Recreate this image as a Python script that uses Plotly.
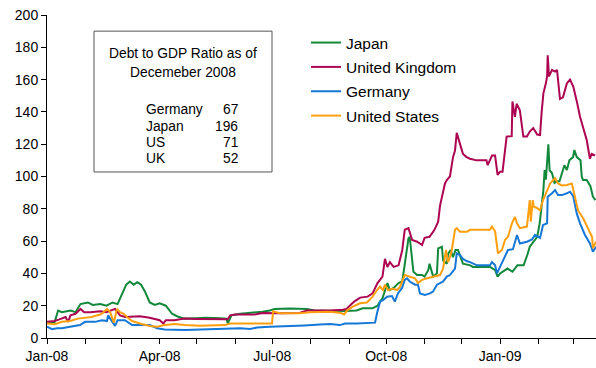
import pandas as pd
import plotly.graph_objects as go

# ---- data (days since 2008-01-01, value) ----
BASE = pd.Timestamp("2008-01-01")

japan_day = [0, 6, 9, 12, 19, 23, 27, 33, 37, 43, 48, 53, 57, 60, 64, 67, 70, 73, 76, 79, 83, 87, 91, 96,
             101, 105, 111, 120, 128, 140, 145, 146, 149, 156, 166, 174, 180, 184, 196, 210, 216, 229, 241,
             250, 255, 263, 267, 269, 271, 275, 277, 280, 284, 287, 288, 291, 292, 293, 295, 296, 299, 303,
             305, 308, 309, 311, 312, 315, 316, 319, 320, 323, 324, 326, 328, 330, 332, 336, 342, 344, 350,
             358, 362, 364, 366, 372, 374, 376, 380, 385, 388, 390, 396, 398, 401, 402, 403, 405, 406, 408,
             410, 412, 414, 417, 418, 420, 422, 425, 426, 428, 431, 432, 433, 436, 439, 441, 443]
japan_val = [9.5, 9.5, 17, 16, 17, 16, 21, 22, 20.5, 21, 20, 22, 21, 26, 33, 35, 33, 34.5, 33, 29, 22, 20.5,
             21.5, 20, 15, 13.5, 12, 12.3, 12.5, 12.3, 12, 9, 14, 15, 15.5, 16.3, 17, 18, 18.3, 18, 17, 16.7,
             16.7, 17, 18.4, 18.4, 20, 22.5, 24.6, 34, 29.7, 31, 34, 35, 40, 54.5, 61.7, 62.7, 46, 41, 39,
             39, 38, 42, 46, 41, 38, 40, 55.5, 56.5, 48, 46, 52, 54.5, 50, 54.5, 54.5, 46, 45, 44, 44, 44,
             42, 38, 40, 43, 42, 41, 45, 45, 51.4, 56.5, 62.7, 71, 91.6, 104, 98, 120, 104, 102, 96, 97, 97,
             104, 107, 104, 110, 112, 116.4, 112, 110, 100, 97.8, 97.8, 94, 87.5, 85.4]

uk_day = [0, 6, 10, 15, 17, 19, 23, 27, 30, 35, 43, 48, 55, 59, 63, 75, 83, 89, 91, 94, 96, 103, 111, 120,
          128, 140, 146, 148, 152, 168, 174, 188, 204, 210, 216, 229, 239, 242, 246, 249, 253, 259, 263,
          267, 271, 273, 275, 277, 280, 284, 287, 289, 292, 295, 299, 303, 305, 309, 313, 316, 317.5, 320,
          321.5, 323, 325.5, 328, 329.6, 331, 333.6, 336, 339, 341.7, 347, 355, 356, 359.5, 362, 364, 366,
          368, 371.3, 375.4, 376, 378, 379.4, 382, 384.8, 387.7, 390, 392.8, 396, 398.3, 399.6, 401, 403,
          404, 404.5, 405.5, 408, 410.4, 412, 414.4, 416.8, 420, 422.5, 425.2, 428, 430.6, 433.2, 436,
          438.6, 440, 442.7]
uk_val = [10, 10.5, 11.5, 13, 10, 14, 15, 18, 16, 16, 16.5, 16, 18, 14, 13, 13.5, 12.5, 11.5, 11, 9, 11, 11,
          12, 11.8, 11.8, 11.6, 11.6, 14, 14.6, 14.6, 15.5, 15.3, 15.5, 17, 17, 17, 17.5, 18, 21, 23, 25,
          25.6, 27.6, 34, 38, 49, 44, 47, 44, 45, 54.5, 67, 68, 60.7, 59.6, 57.6, 62, 62.7, 67, 72, 82,
          90.6, 95.7, 97.8, 100, 112, 116, 127, 120.5, 114, 112, 111, 110, 110, 107, 113, 113, 101, 103,
          103, 124.7, 125, 146.5, 137, 145, 141, 124.7, 124.7, 127.8, 130, 126, 125.7, 140, 151.5, 157.7,
          162, 175, 162, 166, 165, 166, 148, 149, 157.7, 160, 155.6, 146.5, 137, 130, 122.6, 111, 114, 113]

germany_day = [0, 4, 8, 12, 18.6, 26.7, 30.7, 38.8, 44.4, 48.5, 49.3, 51.7, 55, 57, 63, 68.7, 75, 83, 89,
               95, 111.5, 123.6, 139.7, 148, 156, 164, 169.6, 180, 196, 208, 220.5, 228.6, 236.7, 240.7,
               250.4, 265, 266.6, 269, 271.4, 274.7, 278.7, 281, 283.5, 286.8, 289, 290.8, 293, 297.3,
               299.7, 301.3, 305.3, 309.4, 311.8, 315, 317.5, 320, 323, 325.5, 329.6, 331, 333.6, 336,
               339.3, 341.7, 347.4, 357.9, 359.5, 362, 363.5, 366, 370, 372.4, 376.4, 379.7, 382, 387.7,
               391.8, 394.2, 398.3, 400.7, 404, 404.5, 408, 410.4, 412.8, 416, 420, 422.5, 425, 428, 430.6,
               434.6, 438.6, 441, 443.5]
germany_val = [7, 5.5, 6, 6, 7, 8, 10, 10, 11, 10.5, 14, 11, 7.5, 11, 11, 8, 8, 8, 6, 5.3, 5, 5.3, 5.6, 5.6,
               6, 5.6, 6.5, 7, 7.3, 7.8, 8.3, 8.7, 8, 9, 9, 9.5, 15.3, 22.5, 23.5, 25.6, 26, 22.5, 27.6,
               31, 36, 37, 35, 33, 33, 27.6, 26.6, 27.6, 28.7, 33, 34, 35, 38, 39, 43, 52.4, 51.4, 49, 47.5,
               47, 45, 45, 47, 45, 40, 44, 50, 54.5, 55, 63.8, 58.5, 59.6, 61, 63.8, 62, 70, 71, 87.5, 89.6,
               91.6, 88.5, 88.5, 89.6, 90.6, 88, 77, 71, 63.8, 58.5, 53.4, 56.5]

us_day = [0, 6.5, 12, 18.6, 25, 36, 43, 45, 48.5, 51, 54, 56.5, 59, 62, 64.6, 68.7, 75, 83, 89, 95, 103,
          111.5, 123.6, 135.7, 143.8, 148, 164, 176, 181.8, 182.6, 188, 204, 212.5, 228.6, 237.5, 240,
          242.3, 247, 252.8, 258.5, 263, 266.6, 269, 271.4, 273, 275.5, 279.5, 282.7, 285, 289, 293, 297.3,
          299.7, 303, 307, 311.8, 317.5, 320, 322.3, 324, 325.5, 327, 329.6, 331, 333.6, 339.3, 341.7,
          357.9, 359.5, 362, 363.5, 364.3, 367.5, 370, 372.4, 375.6, 378, 379.7, 382, 387.7, 390, 390.8,
          392.4, 393.2, 395.8, 398.3, 400.7, 404, 406.5, 410.4, 412.8, 416, 420, 424, 426.5, 429, 433.2,
          436.2, 440.3, 441, 443.5]
us_val = [9, 8.5, 10, 10.5, 12, 13, 14.5, 15.5, 18, 16, 9.5, 18, 16, 15, 13, 10.5, 9, 7.5, 7, 8, 8.7, 8,
          7.6, 8, 8, 9, 9, 9, 9, 16.5, 15.3, 15.3, 16, 16.3, 15.5, 14.6, 17, 19.4, 21.5, 22, 25.6, 29.7,
          31.8, 29.7, 33, 29.7, 30.5, 29.7, 31.5, 39, 38, 37, 34, 36, 37, 38, 39, 43, 54.5, 47, 50, 54.5,
          67, 68, 65.8, 65.8, 67, 67, 69, 66, 54.5, 52.4, 54.5, 60.7, 62.7, 71, 75, 71, 68, 69, 85.4, 72,
          85.4, 81.3, 80.5, 79, 85.4, 91.6, 95.7, 98.9, 95.7, 94.5, 94.7, 95.7, 87.5, 79, 74, 69, 62.7,
          55.5, 59.6]

series_names = ["Japan", "United Kingdom", "Germany", "United States"]
series_colors = ["#12883A", "#AD0552", "#1577D6", "#FF9F0F"]

debt_title = ["Debt to GDP Ratio as of", "Decemeber 2008"]
debt_country = ["Germany", "Japan", "US", "UK"]
debt_ratio = [67, 196, 71, 52]

y_ticks = [0, 20, 40, 60, 80, 100, 120, 140, 160, 180, 200]


def to_dates(days):
    return [BASE + pd.Timedelta(days=d) for d in days]


fig = go.Figure()
for name, color, d, v in zip(series_names, series_colors,
                             [japan_day, uk_day, germany_day, us_day],
                             [japan_val, uk_val, germany_val, us_val]):
    fig.add_trace(go.Scatter(x=to_dates(d), y=v, mode="lines", name=name,
                             legendgroup=name,
                             line=dict(color=color, width=2)))

FONT = "Liberation Sans, Arial, sans-serif"

PW = 549.0  # plot-area width in px
fig.update_layout(
    width=596, height=368,
    margin=dict(l=47, r=0, t=15, b=30, autoexpand=False),
    paper_bgcolor="white", plot_bgcolor="white",
    font=dict(family=FONT, size=14, color="black"),
    showlegend=True,
    legend=dict(x=259 / PW, y=0.966, xanchor="left", yanchor="top",
                tracegroupgap=1.2, traceorder="grouped",
                bgcolor="rgba(0,0,0,0)", font=dict(size=15.5, color="black")),
)

fig.update_xaxes(
    type="date", automargin=False,
    range=[BASE, BASE + pd.Timedelta(days=443.5)],
    tick0="2008-01-01", dtick="M3", tickformat="%b-%y",
    ticks="outside", ticklen=5, tickcolor="black",
    showline=True, linecolor="black", linewidth=1,
    showgrid=False, zeroline=False, ticklabeloverflow="allow",
    minor=dict(dtick="M1", tick0="2008-01-01", ticks="outside", ticklen=5,
               tickcolor="black", showgrid=False),
    tickfont=dict(size=14),
)
fig.update_yaxes(
    range=[0, 200], tickvals=y_ticks, automargin=False,
    ticks="outside", ticklen=5, tickcolor="black",
    showline=True, linecolor="black", linewidth=1,
    showgrid=False, zeroline=False, ticklabeloverflow="allow",
    tickfont=dict(size=14),
)

# Text box (positions in plot-area pixels converted to paper fractions)
fig.add_shape(type="rect", xref="paper", yref="paper",
              x0=47 / PW, x1=225 / PW, y0=0.514, y1=0.950,
              line=dict(color="#555555", width=1), fillcolor="white", layer="below")

for txt, yp in zip(debt_title, [0.882, 0.822]):
    fig.add_annotation(xref="paper", yref="paper", x=136 / PW, y=yp, text=txt,
                       showarrow=False, xanchor="center", yanchor="middle",
                       font=dict(size=13.8))
for i, (c, r) in enumerate(zip(debt_country, debt_ratio)):
    yp = 0.706 - i * 0.0505
    fig.add_annotation(xref="paper", yref="paper", x=97 / PW, y=yp, text=c,
                       showarrow=False, xanchor="left", yanchor="middle",
                       font=dict(size=13.8))
    fig.add_annotation(xref="paper", yref="paper", x=193 / PW, y=yp, text=str(r),
                       showarrow=False, xanchor="right", yanchor="middle",
                       font=dict(size=13.8))

# Remove the browser's default page margin so the figure fills the window exactly.
fig.write_html("out.html",
               config={"displayModeBar": False},
               post_script="document.body.style.margin='0';document.body.style.overflow='hidden';")
